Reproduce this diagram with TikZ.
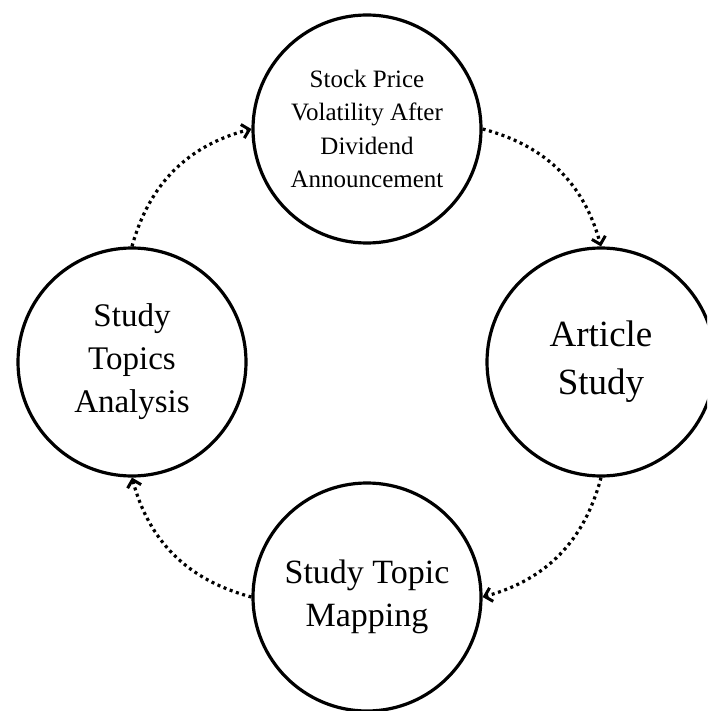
\documentclass[tikz,border=0pt]{standalone}
\usepackage{fontspec}
\setmainfont{Liberation Serif}
\usetikzlibrary{arrows.meta}
\begin{document}
\begin{tikzpicture}[x=1pt,y=-1pt,
  stage/.style={circle, draw, line width=3.2pt, minimum size=228pt, inner sep=0pt, align=center},
  flow/.style={line width=3.2pt, dash pattern=on 3pt off 3.6pt,
    -{Straight Barb[length=7pt,width=14pt,line width=3pt]}}]
\useasboundingbox (0,0) rectangle (707,711);
\clip (0,0) rectangle (707,711);
\node[stage, font=\fontsize{25}{33.5}\selectfont] (T) at (367,129) {Stock Price\\Volatility After\\Dividend\\Announcement};
\node[stage, font=\fontsize{33}{43}\selectfont] (L) at (132,362) {Study\\Topics\\Analysis};
\node[stage, font=\fontsize{37}{48}\selectfont] (R) at (601,362) {Article\\Study};
\node[stage, font=\fontsize{34}{43}\selectfont] (B) at (367,597) {Study Topic\\Mapping};
\draw[flow] (L.north) to[bend left=30] (T.west);
\draw[flow] (T.east) to[bend left=30] (R.north);
\draw[flow] (R.south) to[bend left=30] (B.east);
\draw[flow] (B.west) to[bend left=30] (L.south);
\end{tikzpicture}
\end{document}
